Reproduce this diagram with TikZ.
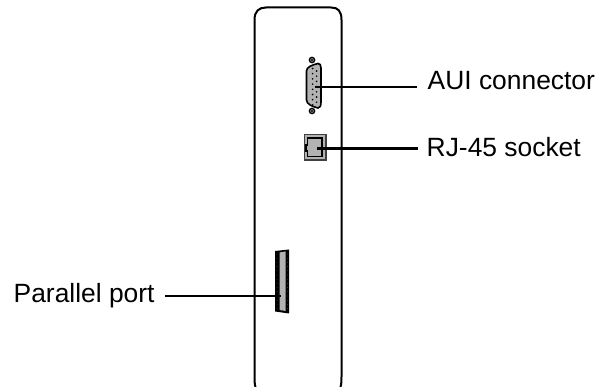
\documentclass[tikz,border=0pt]{standalone}
\usepackage{fontspec}
\setmainfont{Liberation Sans}
\definecolor{pgray}{gray}{0.7}
\tikzset{
  lbl/.style={inner sep=0pt,anchor=base west,font=\fontsize{26.4}{30}\selectfont,text=black},
  lead/.style={line width=2.8pt,black},
  part/.style={draw=black,fill=pgray,line width=1.6pt}
}
\begin{document}
\begin{tikzpicture}[x=1pt,y=-1pt]
\useasboundingbox (0,0) rectangle (597,387);
% panel
\draw[line width=2pt,line cap=round] (255.5,387) .. controls (254.5,384) and (254.5,380) .. (254.5,376) -- (254.5,20) .. controls (254.5,11) and (259,7.5) .. (266,7.5) -- (331,7.5) .. controls (338,7.5) and (341.5,11) .. (341.5,20) -- (341.5,376) .. controls (341.5,380) and (341.5,384) .. (340.5,387);
% AUI
\draw[line width=1.4pt,fill=pgray] (312,60) circle (2.6);
\fill (312,60) circle (1.1);
\draw[line width=1.4pt,fill=pgray] (312,111) circle (2.6);
\fill (312,111) circle (1.1);
\draw[part] (306.5,71) .. controls (306.5,67) and (312,65) .. (318,63.5) .. controls (320,63.5) and (321,65) .. (321,68) -- (321,102) .. controls (321,106) and (320,108) .. (318,108) .. controls (312,106.5) and (306.5,104) .. (306.5,100) -- cycle;
\foreach \i in {0,...,7}{\fill (312.6,68.5+\i*5.2) circle (0.9);}
\foreach \i in {0,...,6}{\fill (316.6,71+\i*5.2) circle (0.9);}
\coordinate (auiend) at (315,87);
% RJ45
\draw[draw=black!75,fill=pgray,line width=1.8pt] (304.5,134.5) rectangle (326,160);
\draw[line width=1.4pt,fill=pgray] (307.5,138) -- (322,138) -- (322,156.5) -- (307.5,156.5) -- (307.5,151) -- (306,151) -- (306,145) -- (307.5,145) -- cycle;
\coordinate (rjend) at (317,148.3);
% Parallel
\fill (275,251) -- (289,249.5) -- (289,313.5) -- (275,311.5) -- cycle;
\fill[pgray] (279.5,252.5) -- (285.5,251.5) -- (285.5,311) -- (279.5,310) -- cycle;
\foreach \i in {0,...,13}{\fill[black!55] (277,254+\i*4.2) circle (0.35);\fill[black!55] (287.3,254+\i*4.2) circle (0.35);}
\coordinate (parend) at (281,296);
% labels
\node[lbl] (aui) at (427.5,89.5) {AUI connector};
\node[lbl] (rj) at (426.5,156.5) {RJ-45 socket};
\node[lbl] (par) at (13.5,303) {Parallel port};
\coordinate (auistart) at (417,87);
\coordinate (rjstart) at (418,148.3);
\coordinate (parstart) at (165,296);
\draw[lead] (auistart) -- (auiend);
\draw[lead] (rjstart) -- (rjend);
\draw[lead] (parstart) -- (parend);
\end{tikzpicture}
\end{document}
